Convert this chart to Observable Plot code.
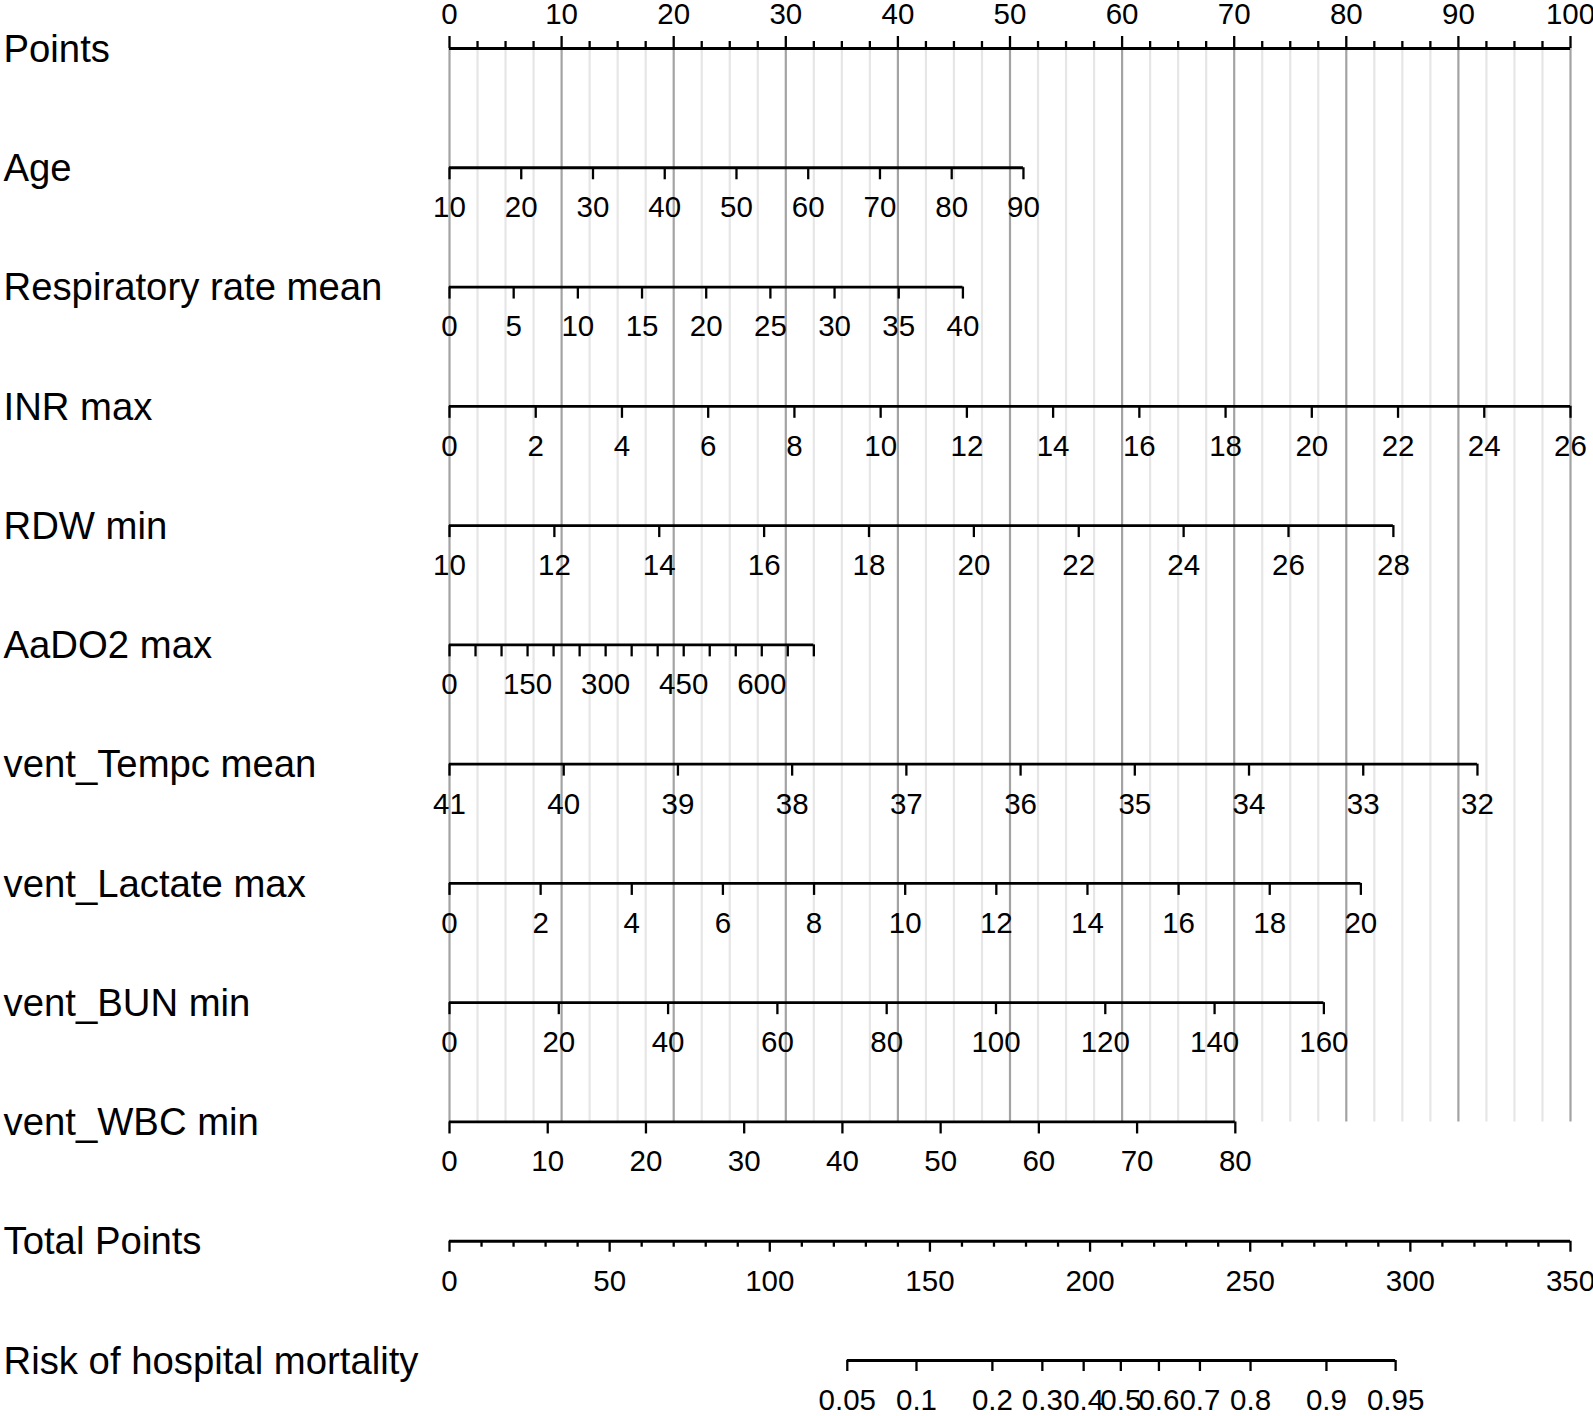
<!DOCTYPE html>
<html><head><meta charset="utf-8">
<script src="https://cdn.jsdelivr.net/npm/d3@7"></script>
<script src="https://cdn.jsdelivr.net/npm/@observablehq/plot@0.6"></script>
<style>body{margin:0;background:#fff} svg{display:block}</style>
</head><body><div id="chart"></div>
<script>
// ---- DATA ----
const rowLabels = ["Points","Age","Respiratory rate mean","INR max","RDW min","AaDO2 max",
  "vent_Tempc mean","vent_Lactate max","vent_BUN min","vent_WBC min","Total Points","Risk of hospital mortality"];

const pointsTicks = [0,10,20,30,40,50,60,70,80,90,100];

// predictors: value giving 0 points, value at the far end of the axis, points at the far end
const variables      = ["Age","Respiratory rate mean","INR max","RDW min","AaDO2 max","vent_Tempc mean","vent_Lactate max","vent_BUN min","vent_WBC min"];
const valueAtZero    = [10, 0, 0, 10, 0, 41, 0, 0, 0];
const valueAtEnd     = [90, 40, 26, 28, 700, 32, 20, 160, 80];
const pointsAtEnd    = [51.2, 45.8, 100, 84.2, 32.5, 91.7, 81.3, 78.0, 70.1];
const ageTicks       = [10,20,30,40,50,60,70,80,90];
const respTicks      = [0,5,10,15,20,25,30,35,40];
const inrTicks       = [0,2,4,6,8,10,12,14,16,18,20,22,24,26];
const rdwTicks       = [10,12,14,16,18,20,22,24,26,28];
const aado2Ticks     = [0,50,100,150,200,250,300,350,400,450,500,550,600,650,700];
const aado2Labels    = [0,150,300,450,600];
const tempTicks      = [41,40,39,38,37,36,35,34,33,32];
const lactateTicks   = [0,2,4,6,8,10,12,14,16,18,20];
const bunTicks       = [0,20,40,60,80,100,120,140,160];
const wbcTicks       = [0,10,20,30,40,50,60,70,80];
const variableTicks  = [ageTicks,respTicks,inrTicks,rdwTicks,aado2Ticks,tempTicks,lactateTicks,bunTicks,wbcTicks];
const variableLabels = [ageTicks,respTicks,inrTicks,rdwTicks,aado2Labels,tempTicks,lactateTicks,bunTicks,wbcTicks];

const totalPointsMax = 350;
const totalTicks = [0,50,100,150,200,250,300,350];

const riskTicks       = [0.05,0.1,0.2,0.3,0.4,0.5,0.6,0.7,0.8,0.9,0.95];
const riskTotalPoints = [124.2,145.8,169.5,185.1,198.0,209.6,221.5,234.3,250.1,273.8,295.4];

// ---- LAYOUT ----
const W = 1593, H = 1416;
const X0 = 449, X1 = 1570, Y0 = 48, Y1 = 1360;
const rowStep = (Y1 - Y0) / 11;
const off = p => p / rowStep;          // pixel length -> row units
const FONT = "'Liberation Sans', Arial, Helvetica, sans-serif";

const axisLines = [], ticks = [], labelsBelow = [], labelsAbove = [];

// Points row
axisLines.push({row: 0, p1: 0, p2: 100});
d3.range(0, 100.01, 2.5).forEach(p => ticks.push({row: 0, p, y2: 0 - off(p % 10 === 0 ? 12 : 7)}));
pointsTicks.forEach(p => labelsAbove.push({row: 0, p, text: String(p)}));

// predictor rows
variables.forEach((name, i) => {
  const row = i + 1;
  const toPts = v => (v - valueAtZero[i]) / (valueAtEnd[i] - valueAtZero[i]) * pointsAtEnd[i];
  axisLines.push({row, p1: 0, p2: pointsAtEnd[i]});
  variableTicks[i].forEach(v => ticks.push({row, p: toPts(v), y2: row + off(12)}));
  variableLabels[i].forEach(v => labelsBelow.push({row, p: toPts(v), text: String(v)}));
});

// Total points row
const totToPts = t => t / totalPointsMax * 100;
axisLines.push({row: 10, p1: 0, p2: 100});
d3.range(0, totalPointsMax + 0.01, 10).forEach(t => ticks.push({row: 10, p: totToPts(t), y2: 10 + off(t % 50 === 0 ? 11 : 6)}));
totalTicks.forEach(t => labelsBelow.push({row: 10, p: totToPts(t), text: String(t)}));

// Risk row
const rp = riskTotalPoints.map(totToPts);
axisLines.push({row: 11, p1: rp[0], p2: rp[rp.length - 1]});
riskTicks.forEach((r, i) => {
  ticks.push({row: 11, p: rp[i], y2: 11 + off(11)});
  labelsBelow.push({row: 11, p: rp[i], text: String(r)});
});

const gridAll = d3.range(0, 100.01, 2.5);
const gridDark = gridAll.filter(p => p % 10 === 0);
const gridLight = gridAll.filter(p => p % 10 !== 0);

const chart = Plot.plot({
  width: W, height: H,
  marginLeft: X0, marginRight: W - X1, marginTop: Y0, marginBottom: H - Y1,
  x: {domain: [0, 100], range: [X0, X1], axis: null},
  y: {domain: [0, 11], range: [Y0, Y1], axis: null},
  style: {fontFamily: FONT, background: "white", color: "black"},
  marks: [
    Plot.ruleX(gridLight, {x: d => d, y1: 0, y2: 9, stroke: "#e6e6e6", strokeWidth: 2.2}),
    Plot.ruleX(gridDark, {x: d => d, y1: 0, y2: 9, stroke: "#a3a3a3", strokeWidth: 2.2}),
    Plot.ruleY(axisLines, {y: "row", x1: "p1", x2: "p2", stroke: "black", strokeWidth: 2.8}),
    Plot.ruleX(ticks, {x: "p", y1: "row", y2: "y2", stroke: "black", strokeWidth: 2.3}),
    Plot.text(labelsBelow, {x: "p", y: "row", text: "text", dy: 40, fontSize: 29.5, fill: "black"}),
    Plot.text(labelsAbove, {x: "p", y: "row", text: "text", dy: -34, fontSize: 29.5, fill: "black"}),
    Plot.text(rowLabels, {frameAnchor: "left", y: (d, i) => i, text: d => d, dx: 3 - X0, dy: 1, textAnchor: "start", fontSize: 38.3, fill: "black"})
  ]
});
document.getElementById("chart").appendChild(chart);
</script>
</body></html>
